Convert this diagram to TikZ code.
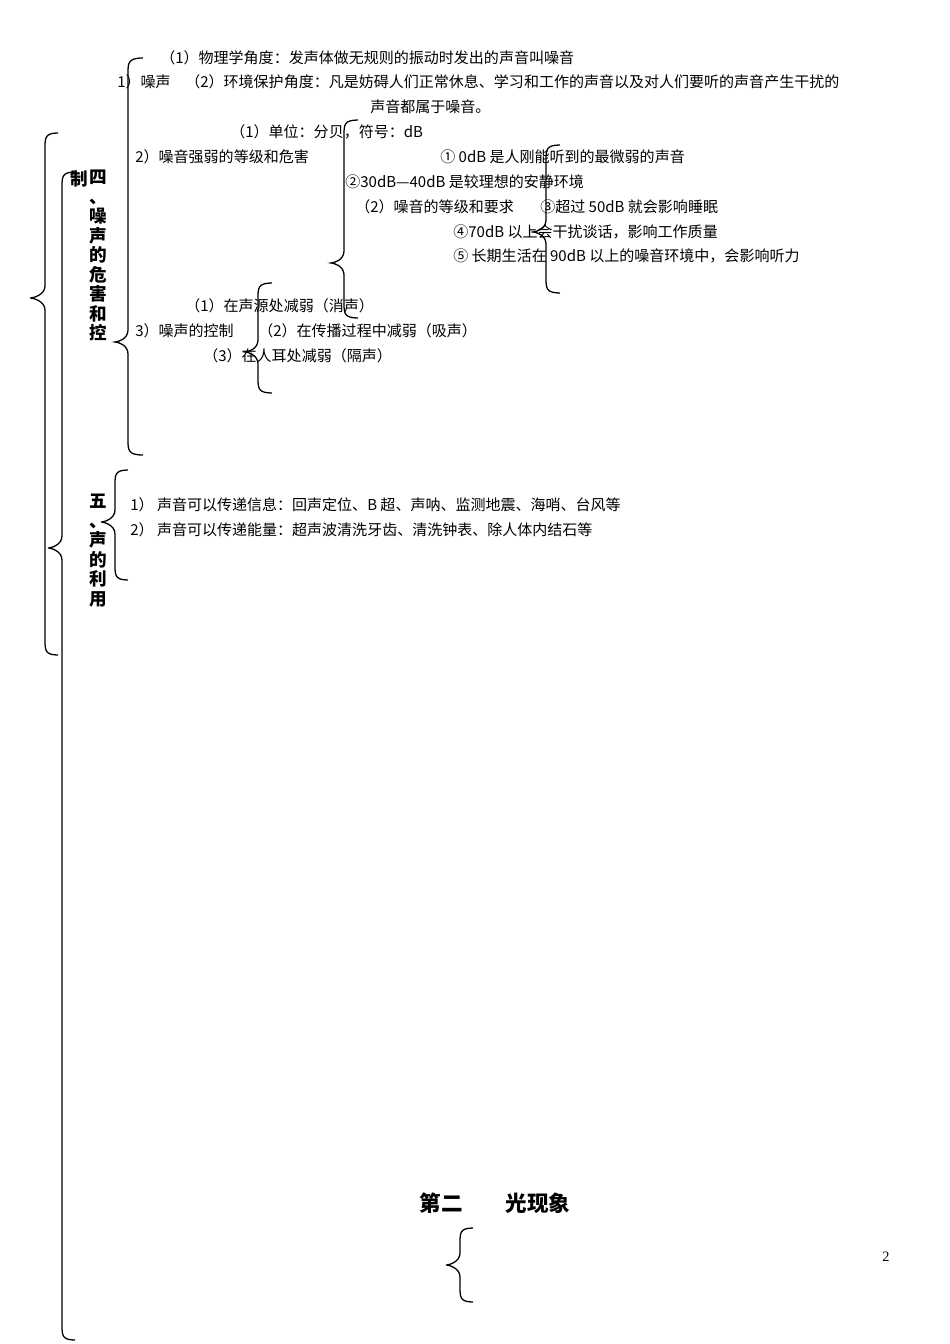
\documentclass[tikz,border=0pt]{standalone}
\usepackage{fontspec}
\setmainfont{Noto Sans CJK SC}
\newfontfamily\serifl{Liberation Serif}
\newcommand\mybrc[6]{\draw[brc] ({#1+#5},#2) .. controls (#1,#2) and (#1,{#2+5}) .. (#1,{#2+15}) -- (#1,{#3-12}) .. controls (#1,{#3-3}) and ({#1-#6+3},#3) .. ({#1-#6},#3) .. controls ({#1-#6+3},#3) and (#1,{#3+3}) .. (#1,{#3+12}) -- (#1,{#4-15}) .. controls (#1,{#4-5}) and (#1,#4) .. ({#1+#5},#4);}
\begin{document}
\begin{tikzpicture}[x=0.626pt,y=-0.626pt,
  brc/.style={line width=0.8pt},
  txt/.style={anchor=west,inner sep=0pt,font=\fontsize{9.4}{11}\selectfont},
  vert/.style={anchor=north,inner sep=0pt,align=center,font=\fontsize{11}{12.2}\selectfont\bfseries}]
\useasboundingbox (0,0) rectangle (950,1344);
\mybrc{128}{58}{342}{455}{15}{13}
\mybrc{344}{120}{263}{318}{14}{13}
\mybrc{546}{145}{232}{293}{14}{13}
\mybrc{258}{283}{352}{393}{14}{13}
\mybrc{115}{470}{522}{580}{13}{14}
\mybrc{45}{133}{298}{655}{13}{15}
\mybrc{62}{172}{548}{1340}{13}{14}
\mybrc{460}{1228}{1265}{1302}{13}{14}
\node[txt] (a1) at (160,58) {（1）物理学角度：发声体做无规则的振动时发出的声音叫噪音};
\node[txt] (a0) at (117,82) {1）噪声};
\node[txt] (a2) at (185,82) {（2）环境保护角度：凡是妨碍人们正常休息、学习和工作的声音以及对人们要听的声音产生干扰的};
\node[txt] (a3) at (370,107) {声音都属于噪音。};
\node[txt] (b1) at (230,132) {（1）单位：分贝，符号：dB};
\node[txt] (b0) at (135,157) {2）噪音强弱的等级和危害};
\node[txt] (c1) at (440,157) {① 0dB 是人刚能听到的最微弱的声音};
\node[txt] (c2) at (345,182) {②30dB—40dB 是较理想的安静环境};
\node[txt] (b2) at (355,207) {（2）噪音的等级和要求};
\node[txt] (c3) at (540,207) {③超过 50dB 就会影响睡眠};
\node[txt] (c4) at (453,232) {④70dB 以上会干扰谈话，影响工作质量};
\node[txt] (c5) at (453,256) {⑤ 长期生活在 90dB 以上的噪音环境中，会影响听力};
\node[txt] (d1) at (185,306) {（1）在声源处减弱（消声）};
\node[txt] (d0) at (135,331) {3）噪声的控制};
\node[txt] (d2) at (258,331) {（2）在传播过程中减弱（吸声）};
\node[txt] (d3) at (203,356) {（3）在人耳处减弱（隔声）};
\node[vert] (v0) at (79,170) {制};
\node[vert] (v1) at (98,170) {四\\、\\噪\\声\\的\\危\\害\\和\\控};
\node[vert] (v2) at (98,494) {五\\、\\声\\的\\利\\用};
\node[txt] (e1) at (130,505) {1）\ 声音可以传递信息：回声定位、B 超、声呐、监测地震、海哨、台风等};
\node[txt] (e2) at (130,530) {2）\ 声音可以传递能量：超声波清洗牙齿、清洗钟表、除人体内结石等};
\node[inner sep=0pt,font=\fontsize{13.5}{15}\selectfont\bfseries] (t) at (495,1203) {第二\hspace{2em}光现象};
\node[inner sep=0pt,font=\fontsize{9}{10}\selectfont\serifl] (p) at (886,1257) {2};
\end{tikzpicture}
\end{document}
